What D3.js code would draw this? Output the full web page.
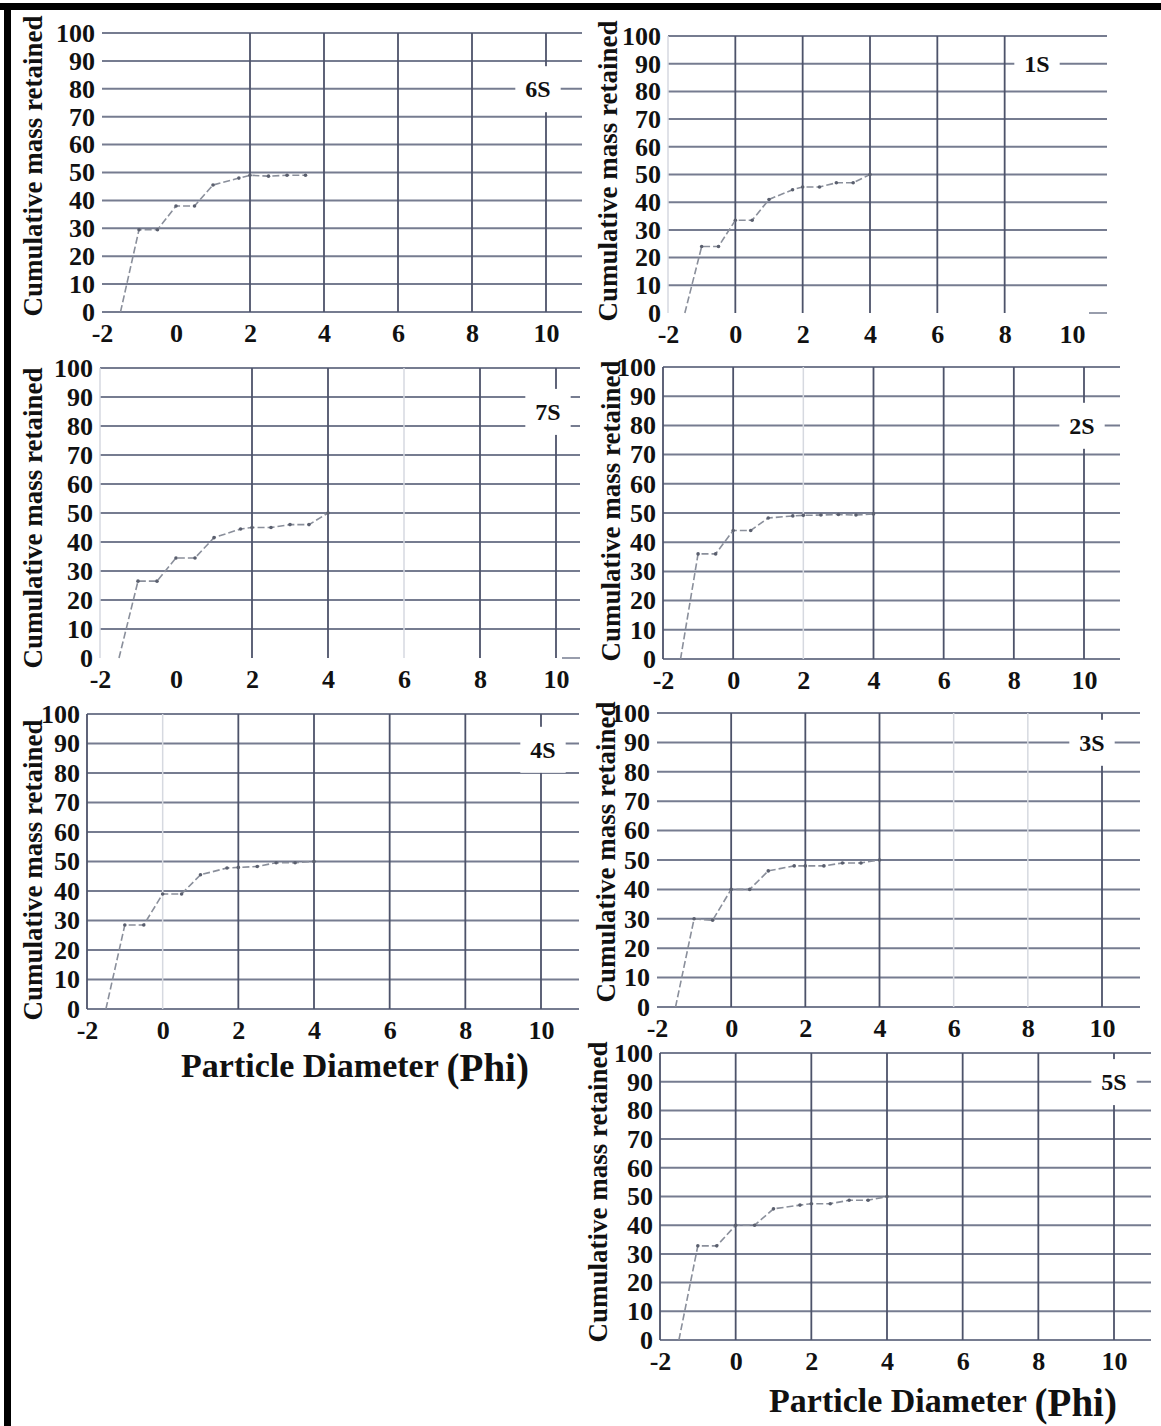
<!DOCTYPE html>
<html lang="en">
<head>
  <meta charset="UTF-8">
  <title>Cumulative mass retained</title>
  <script src="https://d3js.org/d3.v7.min.js"></script>
  <style>
    html, body { margin: 0; padding: 0; background: #fff; }
    svg { display: block; }
    .serif { font-family: "Liberation Serif", "DejaVu Serif", serif; font-weight: bold; fill: #111; }
  </style>
</head>
<body>
<svg width="1161" height="1426"></svg>
<script type="text/javascript">

// sieve sizes (phi) and cumulative mass retained per sample
const phi = [-1.5, -1, -0.5, 0, 0.5, 1, 1.7, 2, 2.5, 3, 3.5, 4];
const s6 = [0, 29.5, 29.5, 38, 38, 45.5, 48, 49, 48.7, 49, 49, null];
const s1 = [0, 24, 24, 33.5, 33.5, 41, 44.5, 45.5, 45.5, 47, 47, 50];
const s7 = [0, 26.5, 26.5, 34.5, 34.5, 41.5, 44.5, 45, 45, 46, 46, 50];
const s2 = [0, 36, 36, 44, 44, 48.3, 49, 49.2, 49.3, 49.5, 49.3, 49.7];
const s4 = [0, 28.5, 28.5, 39, 39, 45.5, 47.8, 48, 48.3, 49.6, 49.6, 50];
const s3 = [0, 30, 29.5, 40, 40, 46.3, 48, 48, 48, 49, 49, 50];
const s5 = [0, 32.8, 32.8, 40, 40, 45.7, 47, 47.5, 47.5, 48.7, 48.7, 50];

const xTicks = [-2, 0, 2, 4, 6, 8, 10];
const yTicks = [0, 10, 20, 30, 40, 50, 60, 70, 80, 90, 100];
const yTitle = "Cumulative mass retained";

// layout of each small chart (pixels), kept apart from the data
// v: style of the vertical grid line at each x tick (d = dark, f = faint, n = none)
const panels = [
  {name: "6S", values: s6, left: 102, x10: 546, right: 582, top: 33, bottom: 312,
   titleX: 33, titleY: 166, tagX: 538, tagV: 80, v: "nndddd d", zero: "full"},
  {name: "1S", values: s1, left: 668, x10: 1072, right: 1107, top: 36, bottom: 313,
   titleX: 608, titleY: 171, tagX: 1037, tagV: 90, v: "fddddd n", zero: "stub"},
  {name: "7S", values: s7, left: 100, x10: 556, right: 580, top: 368, bottom: 658,
   titleX: 33, titleY: 518, tagX: 548, tagV: 85, v: "fndd fd d", zero: "stub"},
  {name: "2S", values: s2, left: 663, x10: 1084, right: 1120, top: 367, bottom: 659,
   titleX: 611, titleY: 511, tagX: 1082, tagV: 80, v: "ddfddd d", zero: "full"},
  {name: "4S", values: s4, left: 87, x10: 541, right: 579, top: 714, bottom: 1009,
   titleX: 33, titleY: 870, tagX: 543, tagV: 88, v: "dfdddd d", zero: "full"},
  {name: "3S", values: s3, left: 657, x10: 1102, right: 1140, top: 713, bottom: 1007,
   titleX: 606, titleY: 852, tagX: 1092, tagV: 90, v: "nddd ff d", zero: "full"},
  {name: "5S", values: s5, left: 660, x10: 1114, right: 1151, top: 1053, bottom: 1340,
   titleX: 598, titleY: 1192, tagX: 1114, tagV: 90, v: "dddddd d", zero: "full"}
];

const svg = d3.select("svg");

// scanned page frame
svg.append("rect").attr("x", 0).attr("y", 3).attr("width", 1161).attr("height", 7).attr("fill", "#000");
svg.append("rect").attr("x", 4).attr("y", 3).attr("width", 7).attr("height", 1423).attr("fill", "#000");

const gridDark = "#4d536a";
const gridH = "#767c90";
const gridFaint = "#d6d9e0";

panels.forEach(p => {
  const x = d3.scaleLinear().domain([-2, 10]).range([p.left, p.x10]);
  const y = d3.scaleLinear().domain([0, 100]).range([p.bottom, p.top]);
  const xEnd = x.invert(p.right);
  const vStyle = p.v.replace(/ /g, "").split("");
  const g = svg.append("g");

  // horizontal grid
  g.selectAll(".hgrid")
    .data(yTicks.filter(t => t > 0 || p.zero === "full"))
    .join("line")
    .attr("x1", x(-2)).attr("x2", x(xEnd))
    .attr("y1", d => y(d)).attr("y2", d => y(d))
    .attr("stroke", gridH).attr("stroke-width", 2);

  if (p.zero === "stub") {
    g.append("line")
      .attr("x1", x(xEnd) - 18).attr("x2", x(xEnd))
      .attr("y1", y(0)).attr("y2", y(0))
      .attr("stroke", gridH).attr("stroke-width", 1.5);
  }

  // vertical grid
  g.selectAll(".vgrid")
    .data(xTicks.map((t, i) => ({t, s: vStyle[i]})).filter(d => d.s !== "n"))
    .join("line")
    .attr("x1", d => x(d.t)).attr("x2", d => x(d.t))
    .attr("y1", y(100)).attr("y2", y(0))
    .attr("stroke", d => d.s === "d" ? gridDark : gridFaint)
    .attr("stroke-width", d => d.s === "d" ? 1.8 : 1.5);

  // sample tag with a white box over the grid
  const tag = g.append("text")
    .attr("class", "serif")
    .attr("x", p.tagX).attr("y", y(p.tagV))
    .attr("dy", "0.35em")
    .attr("text-anchor", "middle")
    .attr("font-size", 24)
    .text(p.name);
  const bb = tag.node().getBBox();
  g.insert("rect", "text")
    .attr("x", bb.x - 10).attr("y", bb.y - 10)
    .attr("width", bb.width + 20).attr("height", bb.height + 20)
    .attr("fill", "#fff");

  // curve
  const pts = phi.map((f, i) => ({f, v: p.values[i]})).filter(d => d.v !== null);
  const line = d3.line().x(d => x(d.f)).y(d => y(d.v));
  g.append("path")
    .datum(pts)
    .attr("d", line)
    .attr("fill", "none")
    .attr("stroke", "#8a8f9b")
    .attr("stroke-width", 1.6)
    .attr("stroke-dasharray", "7,3");
  g.selectAll(".pt")
    .data(pts.slice(1))
    .join("circle")
    .attr("cx", d => x(d.f)).attr("cy", d => y(d.v))
    .attr("r", 1.8)
    .attr("fill", "#5a5f6e");

  // axes (labels only), plain hyphen for negatives like the original
  const ax = g.append("g")
    .attr("transform", `translate(0,${p.bottom})`)
    .call(d3.axisBottom(x).tickValues(xTicks).tickSize(0).tickPadding(12).tickFormat(d => String(d)));
  const ay = g.append("g")
    .attr("transform", `translate(${p.left},0)`)
    .call(d3.axisLeft(y).tickValues(yTicks).tickSize(0).tickPadding(7).tickFormat(d => String(d)));
  [ax, ay].forEach(a => {
    a.select(".domain").remove();
    a.attr("font-family", null).attr("font-size", null).attr("color", "#111");
    a.selectAll("text").attr("class", "serif").attr("font-size", 26);
  });

  // y title
  g.append("text")
    .attr("class", "serif")
    .attr("transform", `translate(${p.titleX},${p.titleY}) rotate(-90)`)
    .attr("dy", "0.35em")
    .attr("text-anchor", "middle")
    .attr("font-size", 27)
    .text(yTitle);
});

// x titles under the bottom charts
[[355, 1077], [943, 1412]].forEach(([cx, cy]) => {
  const t = svg.append("text")
    .attr("class", "serif")
    .attr("x", cx).attr("y", cy)
    .attr("text-anchor", "middle")
    .attr("font-size", 34);
  t.append("tspan").text("Particle Diameter ");
  t.append("tspan").attr("font-size", 39).attr("dy", 4).text("(Phi)");
});

</script>
</body>
</html>
